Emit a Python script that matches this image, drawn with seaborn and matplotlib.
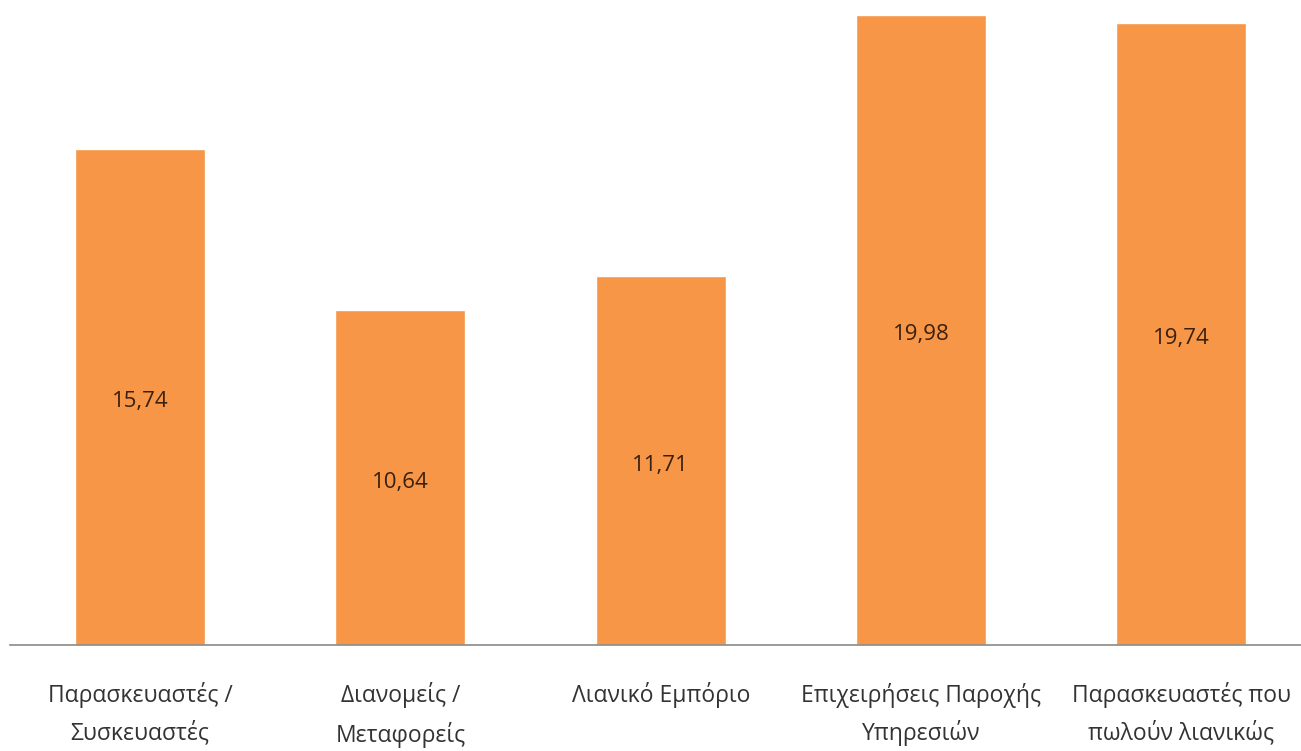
import matplotlib
matplotlib.use("Agg")
import matplotlib.pyplot as plt
import seaborn as sns
import pandas as pd

# Category names (two-line labels) and their values
categories = [
    "Παρασκευαστές /\nΣυσκευαστές",
    "Διανομείς /\nΜεταφορείς",
    "Λιανικό Εμπόριο",
    "Επιχειρήσεις Παροχής\nΥπηρεσιών",
    "Παρασκευαστές που\nπωλούν λιανικώς",
]
values = [15.74, 10.64, 11.71, 19.98, 19.74]

df = pd.DataFrame({"category": categories, "value": values})

sns.set_theme(style="white")
plt.rcParams["font.family"] = ["Open Sans", "DejaVu Sans"]

W, H = 1301, 751
fig = plt.figure(figsize=(W / 100, H / 100), dpi=100)
fig.patch.set_facecolor("white")
ax = fig.add_axes([10 / W, 1 - 645 / H, 1 - 10 / W, 645 / H])

sns.barplot(data=df, x="category", y="value", color="#F79646",
            saturation=1, width=0.5, ax=ax)

ax.set_xlim(-0.5, 4.46)
ax.set_ylim(0, 20.46)

# Value labels centred inside each bar (nudged slightly below the middle)
for i, v in enumerate(values):
    ax.text(i, v / 2 - 0.15, f"{v:.2f}".replace(".", ","), ha="center",
            va="center", fontsize=16, color="#3a200e")

ax.set_xlabel("")
ax.set_ylabel("")
ax.set_yticks([])
for side in ["top", "right", "left"]:
    ax.spines[side].set_visible(False)
ax.spines["bottom"].set_color("#8a8a8a")
ax.spines["bottom"].set_linewidth(1.2)

ax.tick_params(axis="x", length=0, pad=27, labelsize=16.5, colors="#333333")
for lbl in ax.get_xticklabels():
    lbl.set_linespacing(1.65)
    lbl.set_va("top")

fig.savefig("out.png", dpi=100, facecolor="white")
